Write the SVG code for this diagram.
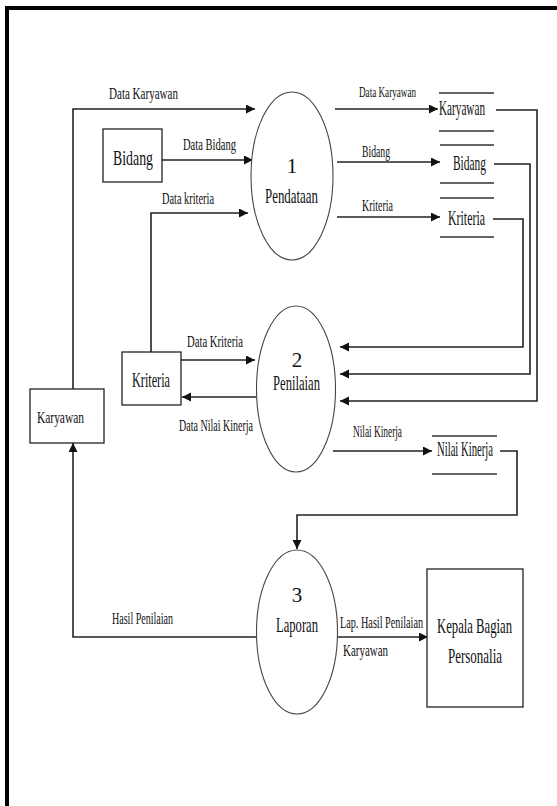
<svg xmlns="http://www.w3.org/2000/svg" width="557" height="806" viewBox="0 0 557 806">
  <style>
    text { font-family: "Liberation Serif", "Times New Roman", serif; fill: #111; }
    .lbl { font-size: 16px; }
    .sm { font-size: 15px; }
    .big { font-size: 21px; }
    .box { fill: #fff; stroke: #222; stroke-width: 1.3; }
    .proc { fill: #fff; stroke: #444; stroke-width: 1.1; }
    .store { stroke: #333; stroke-width: 1.6; fill: none; }
    .flow { fill: none; stroke: #222; stroke-width: 1.6; marker-end: url(#arrow); }
  </style>
  <defs>
    <marker id="arrow" markerUnits="userSpaceOnUse" markerWidth="10" markerHeight="10" refX="9" refY="4.5" orient="auto">
      <path d="M0,0 L9,4.5 L0,9 z" fill="#111"/>
    </marker>
  </defs>

  <rect width="557" height="806" fill="#fff"/>
  <!-- page frame -->
  <path d="M7,810 V8 H562" fill="none" stroke="#000" stroke-width="4"/>

  <!-- connectors -->
  <g id="connectors">
    <path class="flow" d="M73,389 V109 H255"/>
    <path class="flow" d="M162,160 H253"/>
    <path class="flow" d="M151,352 V213 H248"/>
    <path class="flow" d="M335,109 H438"/>
    <path class="flow" d="M337,162 H440"/>
    <path class="flow" d="M337,217 H440"/>
    <path class="flow" d="M496,110 H537 V401 H340"/>
    <path class="flow" d="M494,164 H530 V374 H340"/>
    <path class="flow" d="M493,219 H523 V347 H340"/>
    <path class="flow" d="M181,360 H255"/>
    <path class="flow" d="M257,397 H182"/>
    <path class="flow" d="M333,451 H432"/>
    <path class="flow" d="M500,451 H517 V515 H297 V549"/>
    <path class="flow" d="M258,637 H73 V443"/>
    <path class="flow" d="M338,637 H428"/>

    <text class="lbl" x="109" y="99" textLength="69" lengthAdjust="spacingAndGlyphs">Data Karyawan</text>
    <text class="lbl" x="183" y="150" textLength="53" lengthAdjust="spacingAndGlyphs">Data Bidang</text>
    <text class="lbl" x="162" y="204" textLength="52" lengthAdjust="spacingAndGlyphs">Data kriteria</text>
    <text class="sm" x="359" y="97" textLength="57" lengthAdjust="spacingAndGlyphs">Data Karyawan</text>
    <text class="lbl" x="362" y="157" textLength="28" lengthAdjust="spacingAndGlyphs">Bidang</text>
    <text class="lbl" x="362" y="211" textLength="31" lengthAdjust="spacingAndGlyphs">Kriteria</text>
    <text class="lbl" x="187" y="347" textLength="56" lengthAdjust="spacingAndGlyphs">Data Kriteria</text>
    <text class="lbl" x="179" y="431" textLength="74" lengthAdjust="spacingAndGlyphs">Data Nilai Kinerja</text>
    <text class="lbl" x="353" y="437" textLength="49" lengthAdjust="spacingAndGlyphs">Nilai Kinerja</text>
    <text class="lbl" x="112" y="624" textLength="61" lengthAdjust="spacingAndGlyphs">Hasil Penilaian</text>
    <text class="lbl" transform="translate(340 628) scale(0.62 1)" textLength="134" lengthAdjust="spacingAndGlyphs">Lap. Hasil Penilaian</text>
    <text class="lbl" x="343" y="656" textLength="45" lengthAdjust="spacingAndGlyphs">Karyawan</text>
  </g>

  <!-- external entities -->
  <g id="entity-bidang">
    <rect class="box" x="103" y="129" width="59" height="53"/>
    <text class="big" x="113" y="165" textLength="40" lengthAdjust="spacingAndGlyphs">Bidang</text>
  </g>
  <g id="entity-kriteria">
    <rect class="box" x="122" y="352" width="59" height="53"/>
    <text class="big" x="132" y="387" textLength="38" lengthAdjust="spacingAndGlyphs">Kriteria</text>
  </g>
  <g id="entity-karyawan">
    <rect class="box" x="30" y="389" width="74" height="54"/>
    <text class="lbl" x="37" y="423" textLength="47" lengthAdjust="spacingAndGlyphs">Karyawan</text>
  </g>
  <g id="entity-kepala">
    <rect class="box" x="427" y="569" width="96" height="138"/>
    <text class="big" transform="translate(437 633) scale(0.605 1)" textLength="124" lengthAdjust="spacingAndGlyphs">Kepala Bagian</text>
    <text class="big" transform="translate(448 663) scale(0.617 1)" textLength="87.5" lengthAdjust="spacingAndGlyphs">Personalia</text>
  </g>

  <!-- processes -->
  <g id="proc-1">
    <ellipse class="proc" cx="292" cy="176" rx="41" ry="84"/>
    <text class="big" x="292" y="173" text-anchor="middle">1</text>
    <text class="big" x="265" y="203" textLength="53" lengthAdjust="spacingAndGlyphs">Pendataan</text>
  </g>
  <g id="proc-2">
    <ellipse class="proc" cx="296" cy="389" rx="39.5" ry="83"/>
    <text class="big" x="297" y="367" text-anchor="middle">2</text>
    <text class="big" x="273" y="390" textLength="47" lengthAdjust="spacingAndGlyphs">Penilaian</text>
  </g>
  <g id="proc-3">
    <ellipse class="proc" cx="297" cy="632" rx="40.5" ry="82"/>
    <text class="big" x="297" y="602" text-anchor="middle">3</text>
    <text class="big" x="276" y="632" textLength="42" lengthAdjust="spacingAndGlyphs">Laporan</text>
  </g>

  <!-- data stores -->
  <g id="store-karyawan">
    <path class="store" d="M439,93 H494 M439,131 H494"/>
    <text class="big" x="439" y="115" textLength="46" lengthAdjust="spacingAndGlyphs">Karyawan</text>
  </g>
  <g id="store-bidang">
    <path class="store" d="M440,145 H494 M440,183 H494"/>
    <text class="big" x="453" y="170" textLength="33" lengthAdjust="spacingAndGlyphs">Bidang</text>
  </g>
  <g id="store-kriteria">
    <path class="store" d="M440,198 H494 M440,237 H494"/>
    <text class="big" x="448" y="225" textLength="37" lengthAdjust="spacingAndGlyphs">Kriteria</text>
  </g>
  <g id="store-nilai">
    <path class="store" d="M432,436 H497 M432,474 H497"/>
    <text class="big" x="437" y="456" textLength="56" lengthAdjust="spacingAndGlyphs">Nilai Kinerja</text>
  </g>
</svg>
